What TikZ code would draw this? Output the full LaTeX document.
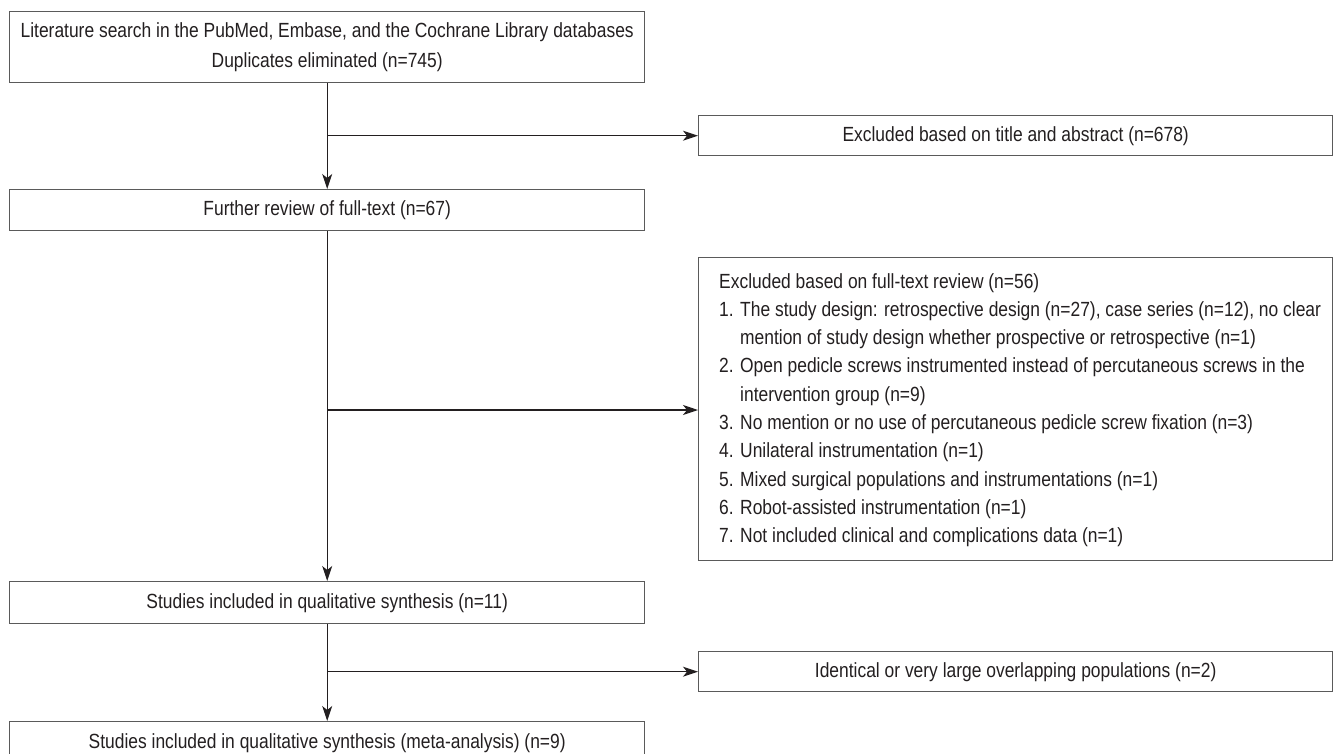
\documentclass[tikz,border=0pt]{standalone}
\usepackage{fontspec}
\setmainfont{Liberation Sans}[FakeStretch=0.85]
\usetikzlibrary{arrows.meta}
\definecolor{txt}{HTML}{231F20}
\definecolor{boxgray}{HTML}{5A5A5A}
\begin{document}
\begin{tikzpicture}[x=1pt,y=-1pt,
  box/.style={draw=boxgray, line width=1.4pt, inner sep=0pt, anchor=north west, text=txt,
    font=\fontsize{20.5}{30}\selectfont, align=center},
  arr/.style={draw=txt, line width=1.2pt, -{Stealth[length=15pt,width=10pt,inset=4pt]}}]
\useasboundingbox (0,0) rectangle (1338,753);
\node[box, minimum width=635pt, minimum height=71pt] (b1) at (9,11)
  {Literature search in the PubMed, Embase, and the Cochrane Library databases\\Duplicates eliminated (n=745)};
\node[box, minimum width=634pt, minimum height=40pt] (e1) at (698,115)
  {Excluded based on title and abstract (n=678)};
\node[box, minimum width=635pt, minimum height=41pt] (b2) at (9,189)
  {Further review of full-text (n=67)};
\node[box, minimum width=634pt, minimum height=303pt] (e2) at (698,257) {};
\node[anchor=north west, inner sep=0pt, align=left, text=txt, font=\fontsize{20.5}{28.3}\selectfont] (e2t) at (719,273)
  {Excluded based on full-text review (n=56)\\
   1. The study design: retrospective design (n=27), case series (n=12), no clear\\
   \phantom{1. }mention of study design whether prospective or retrospective (n=1)\\
   2. Open pedicle screws instrumented instead of percutaneous screws in the\\
   \phantom{2. }intervention group (n=9)\\
   3. No mention or no use of percutaneous pedicle screw fixation (n=3)\\
   4. Unilateral instrumentation (n=1)\\
   5. Mixed surgical populations and instrumentations (n=1)\\
   6. Robot-assisted instrumentation (n=1)\\
   7. Not included clinical and complications data (n=1)};
\node[box, minimum width=635pt, minimum height=42pt] (b3) at (9,581)
  {Studies included in qualitative synthesis (n=11)};
\node[box, minimum width=634pt, minimum height=40pt] (e3) at (698,651)
  {Identical or very large overlapping populations (n=2)};
\node[box, minimum width=635pt, minimum height=42pt] (b4) at (9,721)
  {Studies included in qualitative synthesis (meta-analysis) (n=9)};
\coordinate (j1) at (b1.south |- e1.west);
\coordinate (j2) at (b2.south |- 0,410);
\coordinate (j3) at (b3.south |- e3.west);
\draw[arr] (b1.south) -- (b2.north);
\draw[arr] (j1) -- (e1.west);
\draw[arr] (b2.south) -- (b3.north);
\draw[arr] (j2) -- (j2 -| e2.west);
\draw[arr] (b3.south) -- (b4.north);
\draw[arr] (j3) -- (e3.west);
\end{tikzpicture}
\end{document}
